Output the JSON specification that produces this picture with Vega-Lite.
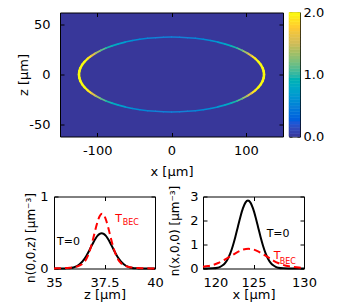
{
  "$schema": "https://vega.github.io/schema/vega-lite/v6.json",
  "padding": {"left": 16, "top": 5.5, "right": 0, "bottom": 0},
  "background": "white",
  "bounds": "flush",
  "spacing": 184,
  "config": {
    "font": "DejaVu Sans",
    "view": {"stroke": "black", "strokeWidth": 1},
    "axis": {
      "domain": false, "grid": false, "tickSize": -4, "tickColor": "black", "tickWidth": 1,
      "labelColor": "black", "titleColor": "black", "labelFontSize": 13, "titleFontSize": 13,
      "titleFontWeight": "normal", "labelFont": "DejaVu Sans", "titleFont": "DejaVu Sans",
      "labelFlush": false, "labelOverlap": false
    }
  },
  "vconcat": [
    {
      "hconcat": [
        {"width": 6, "height": 124, "data": {"values": []}, "mark": "point", "view": {"stroke": null}},
        {
          "width": 223, "height": 124,
          "view": {"fill": "#38379a", "stroke": "black"},
          "data": {"values": [
            {"x":124.5,"z":0,"x2":124.03,"z2":3.26,"n":2.82},
            {"x":124.03,"z":3.26,"x2":122.61,"z2":6.49,"n":2.78},
            {"x":122.61,"z":6.49,"x2":120.26,"z2":9.68,"n":2.65},
            {"x":120.26,"z":9.68,"x2":116.99,"z2":12.79,"n":2.45},
            {"x":116.99,"z":12.79,"x2":112.84,"z2":15.81,"n":2.2},
            {"x":112.84,"z":15.81,"x2":107.82,"z2":18.7,"n":1.9},
            {"x":107.82,"z":18.7,"x2":101.98,"z2":21.45,"n":1.6},
            {"x":101.98,"z":21.45,"x2":95.37,"z2":24.04,"n":1.35},
            {"x":95.37,"z":24.04,"x2":88.04,"z2":26.45,"n":1.12},
            {"x":88.04,"z":26.45,"x2":80.03,"z2":28.65,"n":0.95},
            {"x":80.03,"z":28.65,"x2":71.41,"z2":30.64,"n":0.82},
            {"x":71.41,"z":30.64,"x2":62.25,"z2":32.39,"n":0.72},
            {"x":62.25,"z":32.39,"x2":52.62,"z2":33.9,"n":0.64},
            {"x":52.62,"z":33.9,"x2":42.58,"z2":35.14,"n":0.58},
            {"x":42.58,"z":35.14,"x2":32.22,"z2":36.13,"n":0.54},
            {"x":32.22,"z":36.13,"x2":21.62,"z2":36.83,"n":0.51},
            {"x":21.62,"z":36.83,"x2":10.85,"z2":37.26,"n":0.5},
            {"x":10.85,"z":37.26,"x2":0,"z2":37.4,"n":0.49},
            {"x":-124.5,"z":0,"x2":-124.03,"z2":3.26,"n":2.82},
            {"x":-124.03,"z":3.26,"x2":-122.61,"z2":6.49,"n":2.78},
            {"x":-122.61,"z":6.49,"x2":-120.26,"z2":9.68,"n":2.65},
            {"x":-120.26,"z":9.68,"x2":-116.99,"z2":12.79,"n":2.45},
            {"x":-116.99,"z":12.79,"x2":-112.84,"z2":15.81,"n":2.2},
            {"x":-112.84,"z":15.81,"x2":-107.82,"z2":18.7,"n":1.9},
            {"x":-107.82,"z":18.7,"x2":-101.98,"z2":21.45,"n":1.6},
            {"x":-101.98,"z":21.45,"x2":-95.37,"z2":24.04,"n":1.35},
            {"x":-95.37,"z":24.04,"x2":-88.04,"z2":26.45,"n":1.12},
            {"x":-88.04,"z":26.45,"x2":-80.03,"z2":28.65,"n":0.95},
            {"x":-80.03,"z":28.65,"x2":-71.41,"z2":30.64,"n":0.82},
            {"x":-71.41,"z":30.64,"x2":-62.25,"z2":32.39,"n":0.72},
            {"x":-62.25,"z":32.39,"x2":-52.62,"z2":33.9,"n":0.64},
            {"x":-52.62,"z":33.9,"x2":-42.58,"z2":35.14,"n":0.58},
            {"x":-42.58,"z":35.14,"x2":-32.22,"z2":36.13,"n":0.54},
            {"x":-32.22,"z":36.13,"x2":-21.62,"z2":36.83,"n":0.51},
            {"x":-21.62,"z":36.83,"x2":-10.85,"z2":37.26,"n":0.5},
            {"x":-10.85,"z":37.26,"x2":0,"z2":37.4,"n":0.49},
            {"x":-124.5,"z":0,"x2":-124.03,"z2":-3.26,"n":2.82},
            {"x":-124.03,"z":-3.26,"x2":-122.61,"z2":-6.49,"n":2.78},
            {"x":-122.61,"z":-6.49,"x2":-120.26,"z2":-9.68,"n":2.65},
            {"x":-120.26,"z":-9.68,"x2":-116.99,"z2":-12.79,"n":2.45},
            {"x":-116.99,"z":-12.79,"x2":-112.84,"z2":-15.81,"n":2.2},
            {"x":-112.84,"z":-15.81,"x2":-107.82,"z2":-18.7,"n":1.9},
            {"x":-107.82,"z":-18.7,"x2":-101.98,"z2":-21.45,"n":1.6},
            {"x":-101.98,"z":-21.45,"x2":-95.37,"z2":-24.04,"n":1.35},
            {"x":-95.37,"z":-24.04,"x2":-88.04,"z2":-26.45,"n":1.12},
            {"x":-88.04,"z":-26.45,"x2":-80.03,"z2":-28.65,"n":0.95},
            {"x":-80.03,"z":-28.65,"x2":-71.41,"z2":-30.64,"n":0.82},
            {"x":-71.41,"z":-30.64,"x2":-62.25,"z2":-32.39,"n":0.72},
            {"x":-62.25,"z":-32.39,"x2":-52.62,"z2":-33.9,"n":0.64},
            {"x":-52.62,"z":-33.9,"x2":-42.58,"z2":-35.14,"n":0.58},
            {"x":-42.58,"z":-35.14,"x2":-32.22,"z2":-36.13,"n":0.54},
            {"x":-32.22,"z":-36.13,"x2":-21.62,"z2":-36.83,"n":0.51},
            {"x":-21.62,"z":-36.83,"x2":-10.85,"z2":-37.26,"n":0.5},
            {"x":-10.85,"z":-37.26,"x2":0,"z2":-37.4,"n":0.49},
            {"x":124.5,"z":0,"x2":124.03,"z2":-3.26,"n":2.82},
            {"x":124.03,"z":-3.26,"x2":122.61,"z2":-6.49,"n":2.78},
            {"x":122.61,"z":-6.49,"x2":120.26,"z2":-9.68,"n":2.65},
            {"x":120.26,"z":-9.68,"x2":116.99,"z2":-12.79,"n":2.45},
            {"x":116.99,"z":-12.79,"x2":112.84,"z2":-15.81,"n":2.2},
            {"x":112.84,"z":-15.81,"x2":107.82,"z2":-18.7,"n":1.9},
            {"x":107.82,"z":-18.7,"x2":101.98,"z2":-21.45,"n":1.6},
            {"x":101.98,"z":-21.45,"x2":95.37,"z2":-24.04,"n":1.35},
            {"x":95.37,"z":-24.04,"x2":88.04,"z2":-26.45,"n":1.12},
            {"x":88.04,"z":-26.45,"x2":80.03,"z2":-28.65,"n":0.95},
            {"x":80.03,"z":-28.65,"x2":71.41,"z2":-30.64,"n":0.82},
            {"x":71.41,"z":-30.64,"x2":62.25,"z2":-32.39,"n":0.72},
            {"x":62.25,"z":-32.39,"x2":52.62,"z2":-33.9,"n":0.64},
            {"x":52.62,"z":-33.9,"x2":42.58,"z2":-35.14,"n":0.58},
            {"x":42.58,"z":-35.14,"x2":32.22,"z2":-36.13,"n":0.54},
            {"x":32.22,"z":-36.13,"x2":21.62,"z2":-36.83,"n":0.51},
            {"x":21.62,"z":-36.83,"x2":10.85,"z2":-37.26,"n":0.5},
            {"x":10.85,"z":-37.26,"x2":0,"z2":-37.4,"n":0.49}
          ]},
          "layer": [
            {
              "mark": {"type": "rule", "strokeCap": "round"},
              "encoding": {
                "x": {"field": "x", "type": "quantitative", "scale": {"domain": [-150, 150], "nice": false, "zero": false},
                      "axis": {"values": [-100, 0, 100], "title": "x [µm]", "labelExpr": "'' + datum.value", "labelPadding": 12, "titleY": 39, "titleBaseline": "alphabetic"}},
                "y": {"field": "z", "type": "quantitative", "scale": {"domain": [-62, 62], "nice": false, "zero": false},
                      "axis": {"values": [-50, 0, 50], "title": "z [µm]", "labelExpr": "'' + datum.value", "labelPadding": 14, "titleX": -33, "titleBaseline": "alphabetic"}},
                "x2": {"field": "x2"},
                "y2": {"field": "z2"},
                "color": {"field": "n", "type": "quantitative",
                          "scale": {"domain": [0, 0.25, 0.5, 0.75, 1, 1.25, 1.5, 1.75, 2],
                                    "range": ["#38379a", "#0f5cdd", "#1481d6", "#06a4ca", "#2eb7a4", "#87bf77", "#d1bb59", "#fec832", "#f9fb0e"],
                                    "clamp": true},
                          "legend": null},
                "size": {"field": "n", "type": "quantitative", "scale": {"domain": [0.5, 2.8], "range": [1.5, 2.5]}, "legend": null}
              }
            },
            {
              "mark": {"type": "point", "opacity": 0},
              "encoding": {
                "x": {"field": "x", "type": "quantitative", "axis": {"orient": "top", "labels": false, "title": null, "values": [-100, 0, 100]}},
                "y": {"field": "z", "type": "quantitative", "axis": {"orient": "right", "labels": false, "title": null, "values": [-50, 0, 50]}}
              }
            }
          ],
          "resolve": {"axis": {"x": "independent", "y": "independent"}}
        },
        {"width": 6, "height": 124, "data": {"values": []}, "mark": "point", "view": {"stroke": null}},
        {
          "width": 11, "height": 124,
          "view": {"stroke": "black"},
          "data": {"values": [
            {"v":0,"v2":0.05,"c":0.025},{"v":0.05,"v2":0.1,"c":0.075},{"v":0.1,"v2":0.15,"c":0.125},{"v":0.15,"v2":0.2,"c":0.175},
            {"v":0.2,"v2":0.25,"c":0.225},{"v":0.25,"v2":0.3,"c":0.275},{"v":0.3,"v2":0.35,"c":0.325},{"v":0.35,"v2":0.4,"c":0.375},
            {"v":0.4,"v2":0.45,"c":0.425},{"v":0.45,"v2":0.5,"c":0.475},{"v":0.5,"v2":0.55,"c":0.525},{"v":0.55,"v2":0.6,"c":0.575},
            {"v":0.6,"v2":0.65,"c":0.625},{"v":0.65,"v2":0.7,"c":0.675},{"v":0.7,"v2":0.75,"c":0.725},{"v":0.75,"v2":0.8,"c":0.775},
            {"v":0.8,"v2":0.85,"c":0.825},{"v":0.85,"v2":0.9,"c":0.875},{"v":0.9,"v2":0.95,"c":0.925},{"v":0.95,"v2":1.0,"c":0.975},
            {"v":1.0,"v2":1.05,"c":1.025},{"v":1.05,"v2":1.1,"c":1.075},{"v":1.1,"v2":1.15,"c":1.125},{"v":1.15,"v2":1.2,"c":1.175},
            {"v":1.2,"v2":1.25,"c":1.225},{"v":1.25,"v2":1.3,"c":1.275},{"v":1.3,"v2":1.35,"c":1.325},{"v":1.35,"v2":1.4,"c":1.375},
            {"v":1.4,"v2":1.45,"c":1.425},{"v":1.45,"v2":1.5,"c":1.475},{"v":1.5,"v2":1.55,"c":1.525},{"v":1.55,"v2":1.6,"c":1.575},
            {"v":1.6,"v2":1.65,"c":1.625},{"v":1.65,"v2":1.7,"c":1.675},{"v":1.7,"v2":1.75,"c":1.725},{"v":1.75,"v2":1.8,"c":1.775},
            {"v":1.8,"v2":1.85,"c":1.825},{"v":1.85,"v2":1.9,"c":1.875},{"v":1.9,"v2":1.95,"c":1.925},{"v":1.95,"v2":2.0,"c":1.975}
          ]},
          "layer": [
            {
              "mark": {"type": "rect", "strokeWidth": 0.6},
              "encoding": {
                "x": {"datum": 0, "type": "quantitative", "scale": {"domain": [0, 1], "nice": false}, "axis": null},
                "x2": {"datum": 1},
                "y": {"field": "v", "type": "quantitative", "scale": {"domain": [0, 2], "nice": false, "zero": false},
                      "axis": {"orient": "right", "values": [0, 1, 2], "labelExpr": "format(datum.value, '.1f')", "labelPadding": 6, "title": null, "tickSize": -3}},
                "y2": {"field": "v2"},
                "color": {"field": "c", "type": "quantitative",
                          "scale": {"domain": [0, 0.25, 0.5, 0.75, 1, 1.25, 1.5, 1.75, 2],
                                    "range": ["#38379a", "#0f5cdd", "#1481d6", "#06a4ca", "#2eb7a4", "#87bf77", "#d1bb59", "#fec832", "#f9fb0e"]},
                          "legend": null},
                "stroke": {"field": "c", "type": "quantitative",
                          "scale": {"domain": [0, 0.25, 0.5, 0.75, 1, 1.25, 1.5, 1.75, 2],
                                    "range": ["#38379a", "#0f5cdd", "#1481d6", "#06a4ca", "#2eb7a4", "#87bf77", "#d1bb59", "#fec832", "#f9fb0e"]},
                          "legend": null}
              }
            },
            {
              "mark": {"type": "point", "opacity": 0},
              "encoding": {
                "y": {"field": "v", "type": "quantitative", "axis": {"orient": "left", "labels": false, "title": null, "values": [0, 1, 2], "tickSize": -3}}
              }
            }
          ],
          "resolve": {"axis": {"y": "independent"}}
        }
      ],
      "spacing": 0,
      "bounds": "flush"
    },
    {
      "hconcat": [
        {
          "width": 101, "height": 72,
          "view": {"fill": "white", "stroke": "black"},
          "data": {"values": [
            {"s":"T=0","z":35.0,"n":0},{"s":"T=0","z":35.36,"n":0},{"s":"T=0","z":35.56,"n":0.0015},{"s":"T=0","z":35.76,"n":0.005},
            {"s":"T=0","z":35.96,"n":0.015},{"s":"T=0","z":36.16,"n":0.038},{"s":"T=0","z":36.36,"n":0.083},{"s":"T=0","z":36.46,"n":0.116},
            {"s":"T=0","z":36.56,"n":0.157},{"s":"T=0","z":36.66,"n":0.205},{"s":"T=0","z":36.76,"n":0.258},{"s":"T=0","z":36.86,"n":0.314},
            {"s":"T=0","z":36.96,"n":0.369},{"s":"T=0","z":37.06,"n":0.417},{"s":"T=0","z":37.16,"n":0.456},{"s":"T=0","z":37.26,"n":0.481},
            {"s":"T=0","z":37.36,"n":0.49},{"s":"T=0","z":37.46,"n":0.481},{"s":"T=0","z":37.56,"n":0.456},{"s":"T=0","z":37.66,"n":0.417},
            {"s":"T=0","z":37.76,"n":0.369},{"s":"T=0","z":37.86,"n":0.314},{"s":"T=0","z":37.96,"n":0.258},{"s":"T=0","z":38.06,"n":0.205},
            {"s":"T=0","z":38.16,"n":0.157},{"s":"T=0","z":38.26,"n":0.116},{"s":"T=0","z":38.36,"n":0.083},{"s":"T=0","z":38.56,"n":0.038},
            {"s":"T=0","z":38.76,"n":0.015},{"s":"T=0","z":38.96,"n":0.005},{"s":"T=0","z":39.16,"n":0.0015},{"s":"T=0","z":39.36,"n":0},
            {"s":"T=0","z":40.0,"n":0},
            {"s":"TBEC","z":35.0,"n":0.001},{"s":"TBEC","z":35.38,"n":0.004},{"s":"TBEC","z":35.58,"n":0.006},{"s":"TBEC","z":35.78,"n":0.011},
            {"s":"TBEC","z":35.98,"n":0.018},{"s":"TBEC","z":36.18,"n":0.031},{"s":"TBEC","z":36.38,"n":0.058},{"s":"TBEC","z":36.48,"n":0.084},
            {"s":"TBEC","z":36.58,"n":0.123},{"s":"TBEC","z":36.68,"n":0.179},{"s":"TBEC","z":36.78,"n":0.256},{"s":"TBEC","z":36.88,"n":0.352},
            {"s":"TBEC","z":36.98,"n":0.462},{"s":"TBEC","z":37.08,"n":0.573},{"s":"TBEC","z":37.18,"n":0.67},{"s":"TBEC","z":37.28,"n":0.736},
            {"s":"TBEC","z":37.38,"n":0.76},{"s":"TBEC","z":37.48,"n":0.736},{"s":"TBEC","z":37.58,"n":0.67},{"s":"TBEC","z":37.68,"n":0.573},
            {"s":"TBEC","z":37.78,"n":0.462},{"s":"TBEC","z":37.88,"n":0.352},{"s":"TBEC","z":37.98,"n":0.256},{"s":"TBEC","z":38.08,"n":0.179},
            {"s":"TBEC","z":38.18,"n":0.123},{"s":"TBEC","z":38.28,"n":0.084},{"s":"TBEC","z":38.38,"n":0.058},{"s":"TBEC","z":38.58,"n":0.031},
            {"s":"TBEC","z":38.78,"n":0.018},{"s":"TBEC","z":38.98,"n":0.011},{"s":"TBEC","z":39.18,"n":0.006},{"s":"TBEC","z":39.38,"n":0.004},
            {"s":"TBEC","z":40.0,"n":0.001}
          ]},
          "layer": [
            {
              "transform": [{"filter": "datum.s == 'T=0'"}],
              "mark": {"type": "line", "color": "black", "strokeWidth": 2, "interpolate": "monotone"},
              "encoding": {
                "x": {"field": "z", "type": "quantitative", "scale": {"domain": [35, 40], "nice": false, "zero": false},
                      "axis": {"values": [35, 37.5, 40], "labelExpr": "'' + datum.value", "title": "z [µm]", "labelPadding": 12, "titleY": 30, "titleBaseline": "alphabetic"}},
                "y": {"field": "n", "type": "quantitative", "scale": {"domain": [0, 1], "nice": false},
                      "axis": {"values": [0, 1], "labelExpr": "'' + datum.value", "title": "n(0,0,z) [µm⁻³]", "titleFontSize": 12, "labelPadding": 10, "titleX": -20, "titleY": 41, "titleBaseline": "alphabetic"}}
              }
            },
            {
              "transform": [{"filter": "datum.s == 'TBEC'"}],
              "mark": {"type": "line", "color": "#ff0000", "strokeWidth": 2, "strokeDash": [7, 4], "interpolate": "monotone"},
              "encoding": {
                "x": {"field": "z", "type": "quantitative", "axis": null},
                "y": {"field": "n", "type": "quantitative", "axis": null}
              }
            },
            {
              "data": {"values": [{"z": 35.15, "n": 0.33, "t": "T=0"}]},
              "mark": {"type": "text", "align": "left", "baseline": "alphabetic", "fontSize": 11, "color": "black"},
              "encoding": {
                "x": {"field": "z", "type": "quantitative", "axis": null},
                "y": {"field": "n", "type": "quantitative", "axis": null},
                "text": {"field": "t"}
              }
            },
            {
              "data": {"values": [{"z": 38.03, "n": 0.643, "t": "T"}]},
              "mark": {"type": "text", "align": "left", "baseline": "alphabetic", "fontSize": 11, "color": "#ff0000"},
              "encoding": {
                "x": {"field": "z", "type": "quantitative", "axis": null},
                "y": {"field": "n", "type": "quantitative", "axis": null},
                "text": {"field": "t"}
              }
            },
            {
              "data": {"values": [{"z": 38.4, "n": 0.611, "t": "BEC"}]},
              "mark": {"type": "text", "align": "left", "baseline": "alphabetic", "fontSize": 8, "color": "#ff0000"},
              "encoding": {
                "x": {"field": "z", "type": "quantitative", "axis": null},
                "y": {"field": "n", "type": "quantitative", "axis": null},
                "text": {"field": "t"}
              }
            },
            {
              "mark": {"type": "point", "opacity": 0},
              "encoding": {
                "x": {"field": "z", "type": "quantitative", "axis": {"orient": "top", "labels": false, "title": null, "values": [35, 37.5, 40]}},
                "y": {"field": "n", "type": "quantitative", "axis": {"orient": "right", "labels": false, "title": null, "values": [0, 1]}}
              }
            }
          ],
          "resolve": {"axis": {"x": "independent", "y": "independent"}}
        },
        {
          "width": 101, "height": 72,
          "view": {"fill": "white", "stroke": "black"},
          "data": {"values": [
            {"s":"T=0","x":120.0,"n":0},{"s":"T=0","x":120.45,"n":0.001},{"s":"T=0","x":120.95,"n":0.007},{"s":"T=0","x":121.45,"n":0.034},
            {"s":"T=0","x":121.7,"n":0.07},{"s":"T=0","x":121.95,"n":0.132},{"s":"T=0","x":122.2,"n":0.237},{"s":"T=0","x":122.45,"n":0.398},
            {"s":"T=0","x":122.7,"n":0.631},{"s":"T=0","x":122.95,"n":0.94},{"s":"T=0","x":123.2,"n":1.316},{"s":"T=0","x":123.45,"n":1.734},
            {"s":"T=0","x":123.7,"n":2.148},{"s":"T=0","x":123.95,"n":2.504},{"s":"T=0","x":124.2,"n":2.745},{"s":"T=0","x":124.45,"n":2.83},
            {"s":"T=0","x":124.7,"n":2.745},{"s":"T=0","x":124.95,"n":2.504},{"s":"T=0","x":125.2,"n":2.148},{"s":"T=0","x":125.45,"n":1.734},
            {"s":"T=0","x":125.7,"n":1.316},{"s":"T=0","x":125.95,"n":0.94},{"s":"T=0","x":126.2,"n":0.631},{"s":"T=0","x":126.45,"n":0.398},
            {"s":"T=0","x":126.7,"n":0.237},{"s":"T=0","x":126.95,"n":0.132},{"s":"T=0","x":127.2,"n":0.07},{"s":"T=0","x":127.45,"n":0.034},
            {"s":"T=0","x":127.95,"n":0.007},{"s":"T=0","x":128.45,"n":0.001},{"s":"T=0","x":130.0,"n":0},
            {"s":"TBEC","x":120.0,"n":0.07},{"s":"TBEC","x":120.5,"n":0.1},{"s":"TBEC","x":121.0,"n":0.15},{"s":"TBEC","x":121.5,"n":0.23},
            {"s":"TBEC","x":122.0,"n":0.33},{"s":"TBEC","x":122.5,"n":0.45},{"s":"TBEC","x":123.0,"n":0.58},{"s":"TBEC","x":123.5,"n":0.7},
            {"s":"TBEC","x":124.0,"n":0.79},{"s":"TBEC","x":124.5,"n":0.82},{"s":"TBEC","x":125.0,"n":0.79},{"s":"TBEC","x":125.5,"n":0.7},
            {"s":"TBEC","x":126.0,"n":0.58},{"s":"TBEC","x":126.5,"n":0.45},{"s":"TBEC","x":127.0,"n":0.32},{"s":"TBEC","x":127.5,"n":0.22},
            {"s":"TBEC","x":128.0,"n":0.14},{"s":"TBEC","x":128.5,"n":0.09},{"s":"TBEC","x":129.0,"n":0.06},{"s":"TBEC","x":129.5,"n":0.04},
            {"s":"TBEC","x":130.0,"n":0.03}
          ]},
          "layer": [
            {
              "transform": [{"filter": "datum.s == 'T=0'"}],
              "mark": {"type": "line", "color": "black", "strokeWidth": 2, "interpolate": "monotone"},
              "encoding": {
                "x": {"field": "x", "type": "quantitative", "scale": {"domain": [120, 130], "nice": false, "zero": false},
                      "axis": {"values": [120, 125, 130], "labelExpr": "'' + datum.value", "labelAlign": {"condition": {"test": "datum.value == 120", "value": "left"}, "value": "center"},
                               "title": "x [µm]", "labelPadding": 12, "titleY": 30, "titleBaseline": "alphabetic"}},
                "y": {"field": "n", "type": "quantitative", "scale": {"domain": [0, 3], "nice": false},
                      "axis": {"values": [0, 1, 2, 3], "labelExpr": "'' + datum.value", "title": "n(x,0,0) [µm⁻³]", "titleFontSize": 12, "labelPadding": 9, "titleX": -25, "titleY": 34, "titleBaseline": "alphabetic"}}
              }
            },
            {
              "transform": [{"filter": "datum.s == 'TBEC'"}],
              "mark": {"type": "line", "color": "#ff0000", "strokeWidth": 2, "strokeDash": [7, 4], "interpolate": "monotone"},
              "encoding": {
                "x": {"field": "x", "type": "quantitative", "axis": null},
                "y": {"field": "n", "type": "quantitative", "axis": null}
              }
            },
            {
              "data": {"values": [{"x": 126.3, "n": 1.3, "t": "T=0"}]},
              "mark": {"type": "text", "align": "left", "baseline": "alphabetic", "fontSize": 11, "color": "black"},
              "encoding": {
                "x": {"field": "x", "type": "quantitative", "axis": null},
                "y": {"field": "n", "type": "quantitative", "axis": null},
                "text": {"field": "t"}
              }
            },
            {
              "data": {"values": [{"x": 127.0, "n": 0.38, "t": "T"}]},
              "mark": {"type": "text", "align": "left", "baseline": "alphabetic", "fontSize": 11, "color": "#ff0000"},
              "encoding": {
                "x": {"field": "x", "type": "quantitative", "axis": null},
                "y": {"field": "n", "type": "quantitative", "axis": null},
                "text": {"field": "t"}
              }
            },
            {
              "data": {"values": [{"x": 127.6, "n": 0.2, "t": "BEC"}]},
              "mark": {"type": "text", "align": "left", "baseline": "alphabetic", "fontSize": 8, "color": "#ff0000"},
              "encoding": {
                "x": {"field": "x", "type": "quantitative", "axis": null},
                "y": {"field": "n", "type": "quantitative", "axis": null},
                "text": {"field": "t"}
              }
            },
            {
              "mark": {"type": "point", "opacity": 0},
              "encoding": {
                "x": {"field": "x", "type": "quantitative", "axis": {"orient": "top", "labels": false, "title": null, "values": [120, 125, 130]}},
                "y": {"field": "n", "type": "quantitative", "axis": {"orient": "right", "labels": false, "title": null, "values": [0, 1, 2, 3]}}
              }
            }
          ],
          "resolve": {"axis": {"x": "independent", "y": "independent"}}
        }
      ],
      "spacing": 48,
      "bounds": "flush"
    }
  ]
}
